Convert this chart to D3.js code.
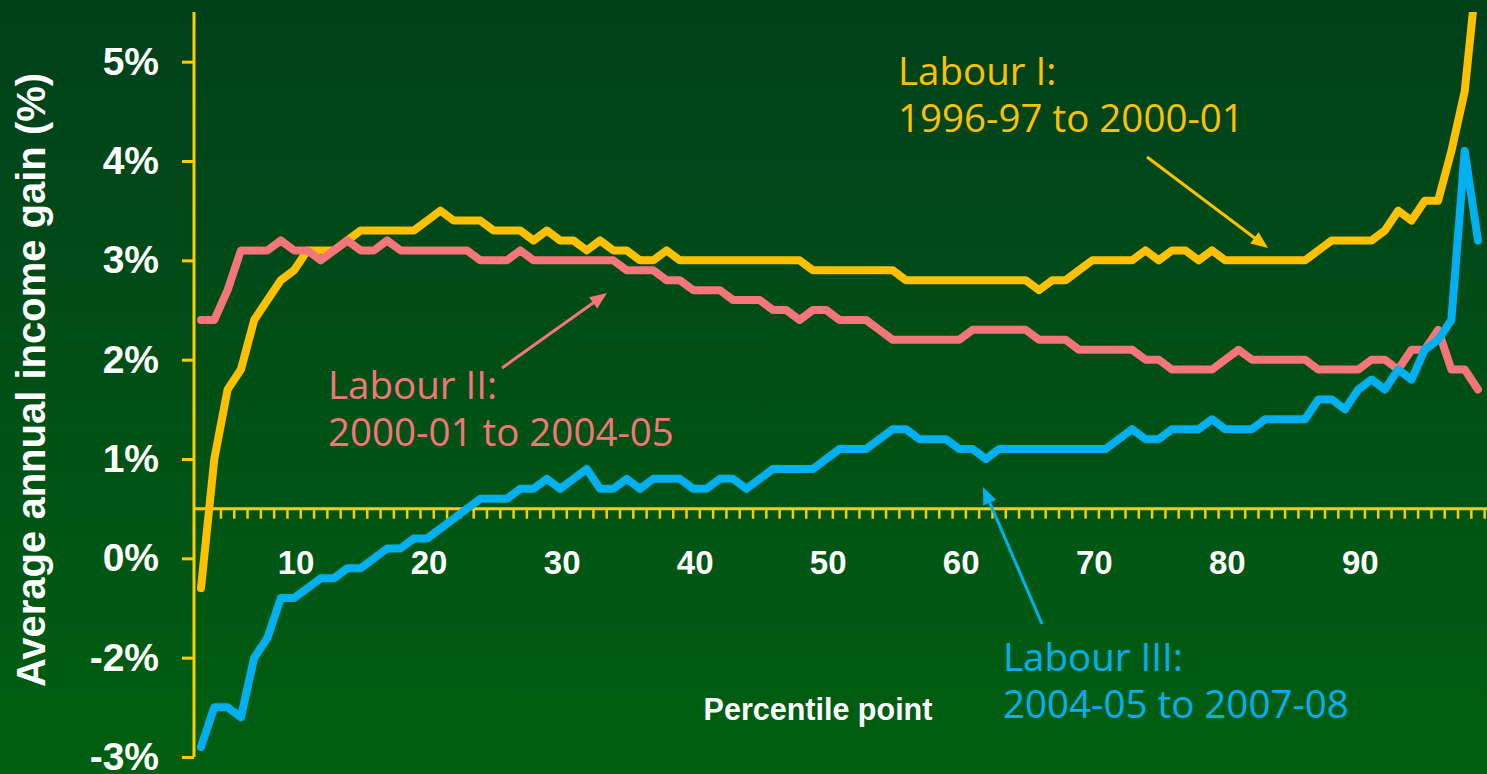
<!DOCTYPE html>
<html>
<head>
	<meta charset="utf-8">
	<title>income gain by percentile</title>
	<style type="text/css">
		body { margin: 0; background: #00401a; }
		svg { display: block; }
	</style>
</head>
<body>
<script src="https://cdn.jsdelivr.net/npm/d3@7"></script>
<script type="text/javascript">
	// data (percentile points 3..99, values in axis units)
	var percentiles = d3.range(3, 100);
	var labourI = [-0.3, 1.0, 1.7, 1.9, 2.4, 2.6, 2.8, 2.9, 3.1, 3.1,
		3.1, 3.2, 3.3, 3.3, 3.3, 3.3, 3.3, 3.4, 3.5, 3.4,
		3.4, 3.4, 3.3, 3.3, 3.3, 3.2, 3.3, 3.2, 3.2, 3.1,
		3.2, 3.1, 3.1, 3.0, 3.0, 3.1, 3.0, 3.0, 3.0, 3.0,
		3.0, 3.0, 3.0, 3.0, 3.0, 3.0, 2.9, 2.9, 2.9, 2.9,
		2.9, 2.9, 2.9, 2.8, 2.8, 2.8, 2.8, 2.8, 2.8, 2.8,
		2.8, 2.8, 2.8, 2.7, 2.8, 2.8, 2.9, 3.0, 3.0, 3.0,
		3.0, 3.1, 3.0, 3.1, 3.1, 3.0, 3.1, 3.0, 3.0, 3.0,
		3.0, 3.0, 3.0, 3.0, 3.1, 3.2, 3.2, 3.2, 3.2, 3.3,
		3.5, 3.4, 3.6, 3.6, 4.1, 4.7, 6.0];
	var labourII = [2.4, 2.4, 2.7, 3.1, 3.1, 3.1, 3.2, 3.1, 3.1, 3.0,
		3.1, 3.2, 3.1, 3.1, 3.2, 3.1, 3.1, 3.1, 3.1, 3.1,
		3.1, 3.0, 3.0, 3.0, 3.1, 3.0, 3.0, 3.0, 3.0, 3.0,
		3.0, 3.0, 2.9, 2.9, 2.9, 2.8, 2.8, 2.7, 2.7, 2.7,
		2.6, 2.6, 2.6, 2.5, 2.5, 2.4, 2.5, 2.5, 2.4, 2.4,
		2.4, 2.3, 2.2, 2.2, 2.2, 2.2, 2.2, 2.2, 2.3, 2.3,
		2.3, 2.3, 2.3, 2.2, 2.2, 2.2, 2.1, 2.1, 2.1, 2.1,
		2.1, 2.0, 2.0, 1.9, 1.9, 1.9, 1.9, 2.0, 2.1, 2.0,
		2.0, 2.0, 2.0, 2.0, 1.9, 1.9, 1.9, 1.9, 2.0, 2.0,
		1.9, 2.1, 2.1, 2.3, 1.9, 1.9, 1.7];
	var labourIII = [-1.9, -1.5, -1.5, -1.6, -1.0, -0.8, -0.4, -0.4, -0.3, -0.2,
		-0.2, -0.1, -0.1, 0.0, 0.1, 0.1, 0.2, 0.2, 0.3, 0.4,
		0.5, 0.6, 0.6, 0.6, 0.7, 0.7, 0.8, 0.7, 0.8, 0.9,
		0.7, 0.7, 0.8, 0.7, 0.8, 0.8, 0.8, 0.7, 0.7, 0.8,
		0.8, 0.7, 0.8, 0.9, 0.9, 0.9, 0.9, 1.0, 1.1, 1.1,
		1.1, 1.2, 1.3, 1.3, 1.2, 1.2, 1.2, 1.1, 1.1, 1.0,
		1.1, 1.1, 1.1, 1.1, 1.1, 1.1, 1.1, 1.1, 1.1, 1.2,
		1.3, 1.2, 1.2, 1.3, 1.3, 1.3, 1.4, 1.3, 1.3, 1.3,
		1.4, 1.4, 1.4, 1.4, 1.6, 1.6, 1.5, 1.7, 1.8, 1.7,
		1.9, 1.8, 2.1, 2.2, 2.4, 4.1, 3.2];

	var yTicks = [5, 4, 3, 2, 1, 0, -1, -2];
	var yTickLabels = ["5%", "4%", "3%", "2%", "1%", "0%", "-2%", "-3%"];
	var xTickLabels = [10, 20, 30, 40, 50, 60, 70, 80, 90];

	// layout
	var w = 1487, h = 774;
	var axisX = 194;
	var yellow = "#ffc000", red = "#f4767a", blue = "#00b0f0", axisCol = "#ffcc00";

	var x = d3.scaleLinear().domain([3, 99]).range([201, 1478]);
	var y = d3.scaleLinear().domain([-2, 5.5]).range([757, 12]);

	var svg = d3.select("body").append("svg").attr("width", w).attr("height", h);
	var defs = svg.append("defs");

	var grad = defs.append("linearGradient").attr("id", "bg")
		.attr("x1", 0).attr("y1", 0).attr("x2", 0).attr("y2", 1);
	grad.append("stop").attr("offset", "0%").attr("stop-color", "#00401b");
	grad.append("stop").attr("offset", "100%").attr("stop-color", "#005f10");
	svg.append("rect").attr("width", w).attr("height", h).attr("fill", "url(#bg)");

	defs.append("clipPath").attr("id", "plot")
		.append("rect").attr("x", axisX).attr("y", y(5.5))
		.attr("width", w - axisX).attr("height", h - y(5.5));

	/*===== Y AXIS =====*/
	var yAxis = d3.axisLeft(y)
		.tickValues(yTicks)
		.tickFormat(function(d, i) { return yTickLabels[i]; })
		.tickSize(12).tickSizeOuter(0).tickPadding(23);
	var gy = svg.append("g").attr("transform", "translate(" + axisX + ",0)").call(yAxis);
	gy.select(".domain").attr("stroke", axisCol).attr("stroke-width", 3)
		.attr("d", "M0," + y(5.5) + "V" + y(-2));
	gy.selectAll(".tick line").attr("stroke", axisCol).attr("stroke-width", 3);
	gy.selectAll(".tick text").attr("fill", "#fff")
		.style("font", "bold 39px 'Liberation Sans', Arial, sans-serif");

	/*===== X AXIS (at 0.5) =====*/
	var x0 = y(0.5);
	svg.append("line").attr("x1", axisX).attr("x2", w).attr("y1", x0).attr("y2", x0)
		.attr("stroke", axisCol).attr("stroke-width", 3);
	svg.append("g").selectAll("line")
		.data(percentiles.map(function(p) { return p + 0.5; }))
		.enter().append("line")
		.attr("x1", function(d) { return x(d); }).attr("x2", function(d) { return x(d); })
		.attr("y1", x0).attr("y2", x0 + 10)
		.attr("stroke", axisCol).attr("stroke-width", 2.5);
	svg.append("g").selectAll("text")
		.data(xTickLabels).enter().append("text")
		.attr("x", function(d) { return x(d) + 2; })
		.attr("y", 574)
		.attr("text-anchor", "middle")
		.attr("fill", "#fff")
		.style("font", "bold 33px 'Liberation Sans', Arial, sans-serif")
		.text(function(d) { return d; });

	/*===== LINES =====*/
	var line = d3.line()
		.x(function(d, i) { return x(percentiles[i]); })
		.y(function(d) { return y(d); });
	var series = [
		{values: labourI, color: yellow},
		{values: labourII, color: red},
		{values: labourIII, color: blue}
	];
	svg.append("g").attr("clip-path", "url(#plot)")
		.selectAll("path").data(series).enter().append("path")
		.attr("d", function(d) { return line(d.values); })
		.attr("fill", "none")
		.attr("stroke", function(d) { return d.color; })
		.attr("stroke-width", 8)
		.attr("stroke-linejoin", "round")
		.attr("stroke-linecap", "round");

	/*===== LABELS =====*/
	var notes = [
		{lines: ["Labour I:", "1996-97 to 2000-01"], tx: 898, ty: 85, color: yellow, from: [1147, 157], to: [1268, 248]},
		{lines: ["Labour II:", "2000-01 to 2004-05"], tx: 328, ty: 399, color: red, from: [502, 368], to: [607, 293]},
		{lines: ["Labour III:", "2004-05 to 2007-08"], tx: 1003, ty: 671, color: blue, from: [1042, 624], to: [983, 487]}
	];
	notes.forEach(function(n) {
		var t = svg.append("text").attr("fill", n.color)
			.style("font", "38.5px 'Open Sans', 'Noto Sans', sans-serif");
		n.lines.forEach(function(s, i) {
			t.append("tspan").attr("x", n.tx).attr("y", n.ty + i * 47).text(s);
		});
		var dx = n.to[0] - n.from[0], dy = n.to[1] - n.from[1];
		var len = Math.sqrt(dx * dx + dy * dy), ux = dx / len, uy = dy / len;
		var hl = 17, hw = 7;
		var bx = n.to[0] - ux * hl, by = n.to[1] - uy * hl;
		svg.append("line").attr("x1", n.from[0]).attr("y1", n.from[1])
			.attr("x2", bx + ux * 2).attr("y2", by + uy * 2)
			.attr("stroke", n.color).attr("stroke-width", 3);
		svg.append("polygon").attr("fill", n.color)
			.attr("points", [n.to, [bx - uy * hw, by + ux * hw], [bx + uy * hw, by - ux * hw]]
				.map(function(p) { return p.join(","); }).join(" "));
	});

	svg.append("text").attr("x", 818).attr("y", 720)
		.attr("text-anchor", "middle").attr("fill", "#fff")
		.style("font", "bold 30.5px 'Liberation Sans', Arial, sans-serif")
		.text("Percentile point");

	svg.append("text").attr("transform", "translate(45,380) rotate(-90)")
		.attr("text-anchor", "middle").attr("fill", "#fff")
		.style("font", "bold 40px 'Liberation Sans', Arial, sans-serif")
		.text("Average annual income gain (%)");
</script>
</body>
</html>
